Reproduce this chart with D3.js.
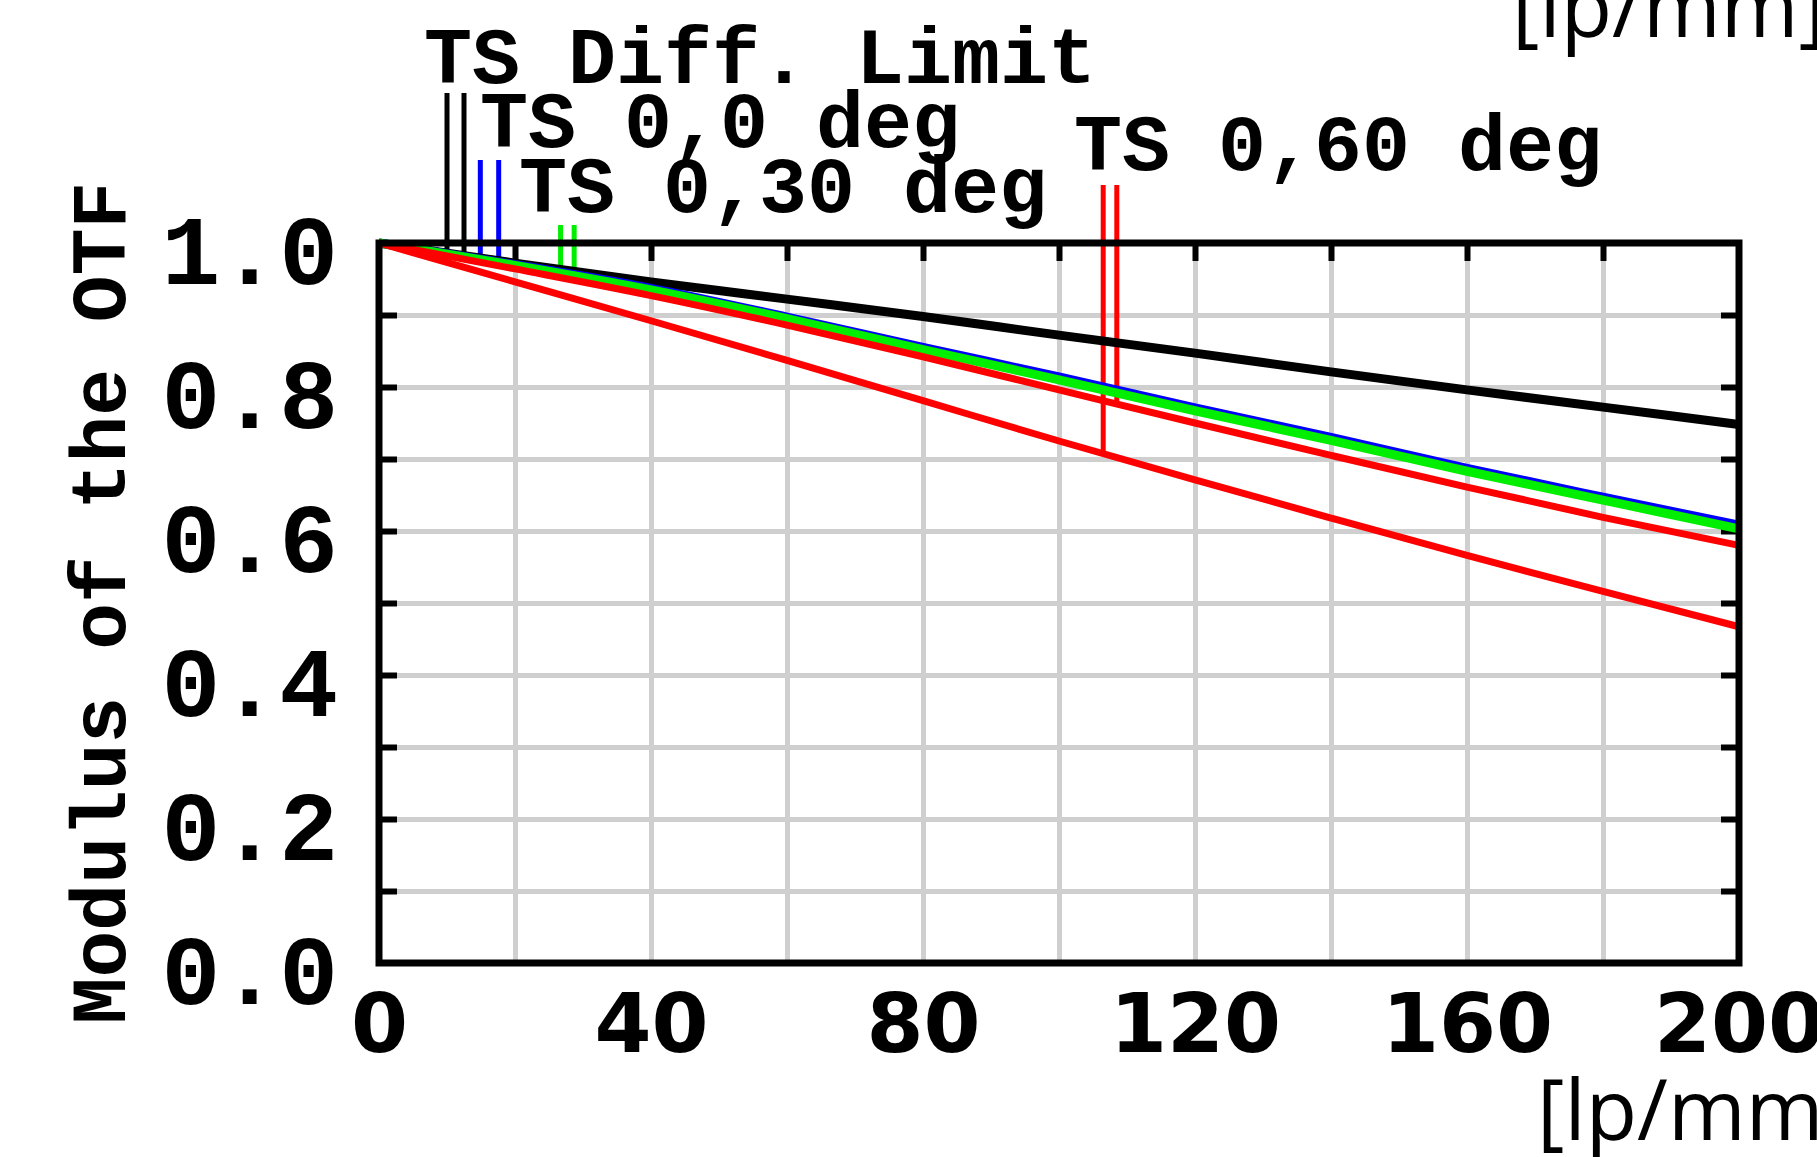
<!DOCTYPE html>
<html>
<head>
<meta charset="utf-8">
<script src="https://cdn.jsdelivr.net/npm/d3@7"></script>
<style>
  html, body { margin: 0; padding: 0; background: #fff; }
  svg { display: block; }
</style>
</head>
<body>
<div id="chart"></div>
<script>
// Data (spatial frequency in lp/mm, modulus of the OTF)
const freq       = [0, 20, 40, 60, 80, 100, 120, 140, 160, 180, 200];
const diffLimit  = [1, 0.972, 0.946, 0.922, 0.898, 0.872, 0.847, 0.821, 0.796, 0.772, 0.748];
const field0     = [1, 0.970, 0.937, 0.897, 0.855, 0.814, 0.771, 0.730, 0.687, 0.647, 0.608];
const field30    = [1, 0.969, 0.935, 0.895, 0.852, 0.810, 0.767, 0.726, 0.683, 0.643, 0.603];
const field60S   = [1, 0.964, 0.927, 0.886, 0.842, 0.796, 0.750, 0.705, 0.661, 0.619, 0.580];
const field60T   = [1, 0.946, 0.892, 0.837, 0.781, 0.725, 0.671, 0.618, 0.566, 0.516, 0.467];

const legendNames = ["TS Diff. Limit", "TS 0,0 deg", "TS 0,30 deg", "TS 0,60 deg"];
const markerFreq  = [[10.0, 12.5], [14.9, 17.6], [26.7, 28.7], [106.5, 108.5]];
const xTicks = [0, 40, 80, 120, 160, 200];
const yTicks = [0, 0.2, 0.4, 0.6, 0.8, 1.0];
const xGrid  = [20, 40, 60, 80, 100, 120, 140, 160, 180];
const yGrid  = [0.1, 0.2, 0.3, 0.4, 0.5, 0.6, 0.7, 0.8, 0.9];

// The svg
const W = 1817, H = 1157;
const plot = { left: 379, right: 1739, top: 243, bottom: 963 };

const svg = d3.select("#chart")
    .append("svg")
    .attr("width", W)
    .attr("height", H);

svg.append("rect").attr("width", W).attr("height", H).attr("fill", "#fff");

const x = d3.scaleLinear().domain([0, 200]).range([plot.left, plot.right]);
const y = d3.scaleLinear().domain([0, 1]).range([plot.bottom, plot.top]);

const monoFont = "'Liberation Mono', 'Courier New', monospace";

// grid
svg.append("g")
    .attr("transform", `translate(0,${plot.bottom})`)
    .call(d3.axisBottom(x).tickValues(xGrid).tickSize(-(plot.bottom - plot.top)).tickFormat(""))
    .call(g => g.select(".domain").remove())
    .call(g => g.selectAll("line").attr("stroke", "#cfcfcf").attr("stroke-width", 5));

svg.append("g")
    .attr("transform", `translate(${plot.left},0)`)
    .call(d3.axisLeft(y).tickValues(yGrid).tickSize(-(plot.right - plot.left)).tickFormat(""))
    .call(g => g.select(".domain").remove())
    .call(g => g.selectAll("line").attr("stroke", "#cfcfcf").attr("stroke-width", 5));

// inward ticks on left, right and top
function tickStyle(g) {
    g.select(".domain").remove();
    g.selectAll("line").attr("stroke", "#000").attr("stroke-width", 6);
}
svg.append("g")
    .attr("transform", `translate(${plot.left},0)`)
    .call(d3.axisRight(y).tickValues(yGrid).tickSize(18).tickFormat(""))
    .call(tickStyle);
svg.append("g")
    .attr("transform", `translate(${plot.right},0)`)
    .call(d3.axisLeft(y).tickValues(yGrid).tickSize(18).tickFormat(""))
    .call(tickStyle);
svg.append("g")
    .attr("transform", `translate(0,${plot.top})`)
    .call(d3.axisBottom(x).tickValues(xGrid).tickSize(18).tickFormat(""))
    .call(tickStyle);

// series
const series = [
    { values: diffLimit, color: "#000000", width: 9 },
    { values: field0,    color: "#0000ff", width: 9 },
    { values: field30,   color: "#00ee00", width: 9 },
    { values: field60S,  color: "#ff0000", width: 7 },
    { values: field60T,  color: "#ff0000", width: 7 }
];

// marker pairs belong to: [curve for left line, curve for right line]
const markerCurves = [[diffLimit, diffLimit], [field0, field0], [field30, field30], [field60T, field60S]];
const markerColors = ["#000000", "#0000ff", "#00ee00", "#ff0000"];
const markerTop = [93, 160, 225, 185];
const labelPos = [
    { x: 424, y: 83 },
    { x: 480, y: 147 },
    { x: 519, y: 212 },
    { x: 1074, y: 170 }
];

// where a leader line meets its curve
function valueAt(arr, f) {
    const i = Math.min(freq.length - 2, Math.floor(f / 20));
    const t = (f - freq[i]) / (freq[i + 1] - freq[i]);
    return arr[i] + (arr[i + 1] - arr[i]) * t;
}

const markers = svg.append("g");
markerFreq.forEach(function (pair, i) {
    pair.forEach(function (f, j) {
        markers.append("line")
            .attr("x1", x(f)).attr("x2", x(f))
            .attr("y1", markerTop[i])
            .attr("y2", y(valueAt(markerCurves[i][j], f)))
            .attr("stroke", markerColors[i])
            .attr("stroke-width", 5);
    });
});

const line = d3.line()
    .x((d, i) => x(freq[i]))
    .y(d => y(d))
    .curve(d3.curveMonotoneX);

svg.append("g")
    .selectAll("path")
    .data(series)
    .enter()
    .append("path")
    .attr("d", d => line(d.values))
    .attr("fill", "none")
    .attr("stroke", d => d.color)
    .attr("stroke-width", d => d.width)
    .attr("stroke-linejoin", "round");

// frame
svg.append("rect")
    .attr("x", plot.left).attr("y", plot.top)
    .attr("width", plot.right - plot.left)
    .attr("height", plot.bottom - plot.top)
    .attr("fill", "none")
    .attr("stroke", "#000")
    .attr("stroke-width", 7);

// legend labels
svg.append("g")
    .selectAll("text")
    .data(legendNames)
    .enter()
    .append("text")
    .attr("x", (d, i) => labelPos[i].x)
    .attr("y", (d, i) => labelPos[i].y)
    .attr("font-family", monoFont)
    .attr("font-weight", "bold")
    .attr("font-size", 80)
    .attr("fill", "#000")
    .text(d => d);

// y tick labels
svg.append("g")
    .attr("transform", `translate(${plot.left},0)`)
    .call(d3.axisLeft(y).tickValues(yTicks).tickSize(0).tickPadding(41).tickFormat(d3.format(".1f")))
    .call(g => g.select(".domain").remove())
    .call(g => g.selectAll("text")
        .attr("dy", "0.41em")
        .attr("font-family", monoFont)
        .attr("font-weight", "bold")
        .attr("font-size", 98)
        .attr("fill", "#000"));

// x tick labels
svg.append("g")
    .attr("transform", `translate(0,${plot.bottom})`)
    .call(d3.axisBottom(x).tickValues(xTicks).tickSize(0).tickPadding(31).tickFormat(d3.format("d")))
    .call(g => g.select(".domain").remove())
    .call(g => g.selectAll("text")
        .attr("font-family", "'DejaVu Sans', Verdana, sans-serif")
        .attr("font-weight", "bold")
        .attr("font-size", 82)
        .attr("fill", "#000"));

// axis titles
svg.append("text")
    .attr("transform", `translate(125,${(plot.top + plot.bottom) / 2}) rotate(-90)`)
    .attr("text-anchor", "middle")
    .attr("font-family", monoFont)
    .attr("font-weight", "bold")
    .attr("font-size", 78)
    .attr("fill", "#000")
    .text("Modulus of the OTF");

svg.append("text")
    .attr("x", 1537).attr("y", 1140)
    .attr("font-family", "'Open Sans', 'Liberation Sans', sans-serif")
    .attr("font-size", 84)
    .attr("fill", "#000")
    .text("[lp/mm]");

svg.append("text")
    .attr("x", 1512).attr("y", 37)
    .attr("font-family", "'Open Sans', 'Liberation Sans', sans-serif")
    .attr("font-size", 84)
    .attr("fill", "#000")
    .text("[lp/mm]");
</script>
</body>
</html>
